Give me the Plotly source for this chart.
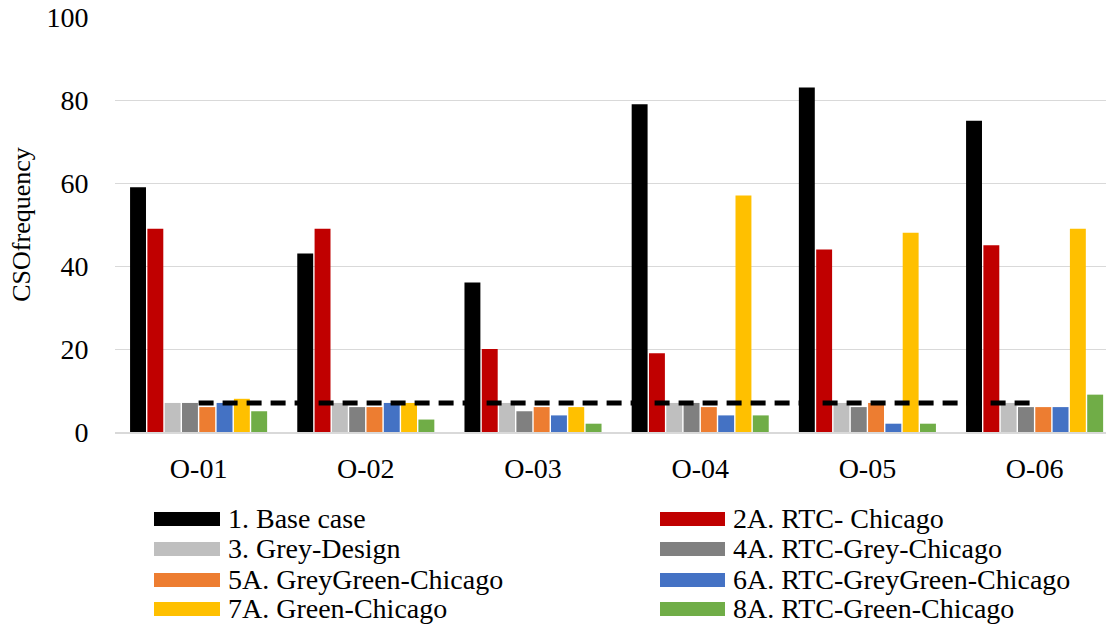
import plotly.graph_objects as go

# Outfalls and CSO frequency per scenario
outfalls = ["O-01", "O-02", "O-03", "O-04", "O-05", "O-06"]

base_case = [59, 43, 36, 79, 83, 75]
rtc_chicago = [49, 49, 20, 19, 44, 45]
grey_design = [7, 7, 7, 7, 7, 7]
rtc_grey_chicago = [7, 6, 5, 7, 6, 6]
greygreen_chicago = [6, 6, 6, 6, 7, 6]
rtc_greygreen_chicago = [7, 7, 4, 4, 2, 6]
green_chicago = [8, 7, 6, 57, 48, 49]
rtc_green_chicago = [5, 3, 2, 4, 2, 9]

target_frequency = [7, 7, 7, 7, 7, 7]

series_names = [
    "1. Base case", "2A. RTC- Chicago", "3. Grey-Design", "4A. RTC-Grey-Chicago",
    "5A. GreyGreen-Chicago", "6A. RTC-GreyGreen-Chicago", "7A. Green-Chicago",
    "8A. RTC-Green-Chicago",
]
series_values = [
    base_case, rtc_chicago, grey_design, rtc_grey_chicago,
    greygreen_chicago, rtc_greygreen_chicago, green_chicago, rtc_green_chicago,
]
series_colors = [
    "#000000", "#C00000", "#BFBFBF", "#808080",
    "#ED7D31", "#4472C4", "#FFC000", "#70AD47",
]

FONT = "Liberation Serif"
W, H = 1106, 625
ML, MR, MT, MB = 115, 0, 17, 193
plot_w = W - ML - MR
plot_h = H - MT - MB
CAT_W = 167.2  # pixel width of one outfall slot

fig = go.Figure()
for name, vals, col in zip(series_names, series_values, series_colors):
    fig.add_trace(go.Bar(x=outfalls, y=vals, name=name, marker_color=col,
                         marker_line_width=0, showlegend=False))

fig.add_trace(go.Scatter(x=outfalls, y=target_frequency, mode="lines",
                         line=dict(color="black", width=5, dash="15px,9px"),
                         showlegend=False, hoverinfo="skip"))

# Two-column legend drawn below the axis
def px_to_paper_x(px):
    return (px - ML) / plot_w

def px_to_paper_y(py):
    return (H - MB - py) / plot_h

shapes = []
annotations = []
row_y = [519, 549, 580, 609]
col_sym = [(154, 220), (660, 725)]
col_txt = [226, 731]
for i, (name, col) in enumerate(zip(series_names, series_colors)):
    r, c = divmod(i, 2)
    yc = row_y[r]
    shapes.append(dict(type="rect", xref="paper", yref="paper",
                       x0=px_to_paper_x(col_sym[c][0]), x1=px_to_paper_x(col_sym[c][1]),
                       y0=px_to_paper_y(yc + 7), y1=px_to_paper_y(yc - 7),
                       fillcolor=col, line_width=0))
    annotations.append(dict(xref="paper", yref="paper",
                            x=px_to_paper_x(col_txt[c]), y=px_to_paper_y(yc - 1),
                            xanchor="left", yanchor="middle", showarrow=False,
                            text=name, font=dict(family=FONT, size=28, color="black")))

fig.update_layout(
    width=W, height=H,
    margin=dict(l=ML, r=MR, t=MT, b=MB),
    paper_bgcolor="white", plot_bgcolor="white",
    barmode="group", bargap=0.172, bargroupgap=0.08,
    font=dict(family=FONT, size=28, color="black"),
    shapes=shapes, annotations=annotations,
    showlegend=False,
)
fig.update_xaxes(range=[-0.5, -0.5 + plot_w / CAT_W],
                 showgrid=False, showline=True, linecolor="#D9D9D9", linewidth=2,
                 ticks="outside", ticklen=10, tickcolor="rgba(0,0,0,0)",
                 tickfont=dict(family=FONT, size=28))
fig.update_yaxes(range=[0, 100], dtick=20, showgrid=True, gridcolor="#D9D9D9",
                 gridwidth=1, zeroline=False, showline=False,
                 ticks="outside", ticklen=20, tickcolor="rgba(0,0,0,0)",
                 tickfont=dict(family=FONT, size=28),
                 title=dict(text="CSOfrequency", font=dict(family=FONT, size=26),
                            standoff=8))

fig.write_html("out.html")
